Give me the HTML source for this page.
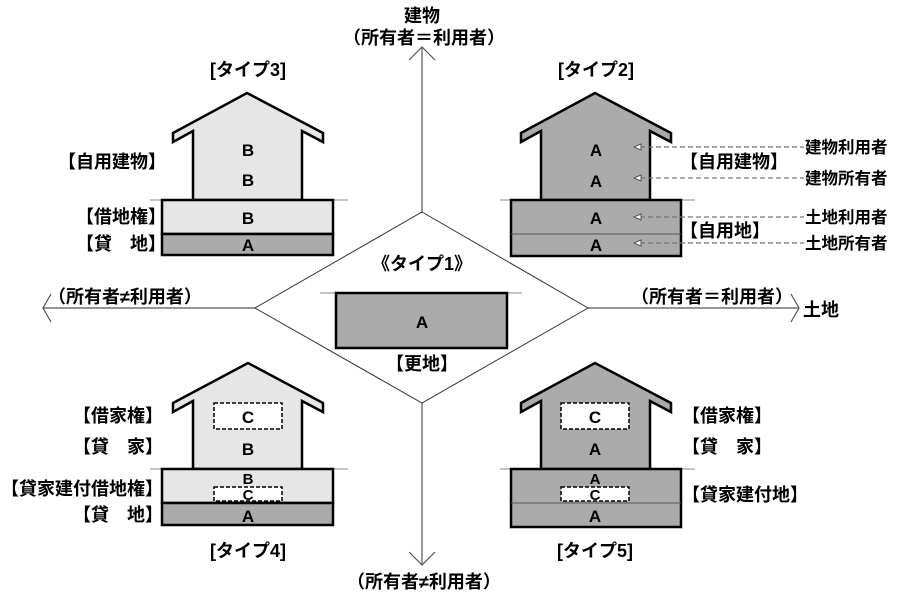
<!DOCTYPE html>
<html><head><meta charset="utf-8"><style>
html,body{margin:0;padding:0;background:#fff;}
svg{display:block;}
text{font-family:"Liberation Sans","Noto Sans CJK JP",sans-serif;font-weight:bold;fill:#000;}
</style></head><body>
<svg width="900" height="594" viewBox="0 0 900 594" xmlns="http://www.w3.org/2000/svg">
<!-- axes -->
<g stroke="#555" stroke-width="1.2" fill="none">
<line x1="422" y1="47" x2="422" y2="565"/>
<line x1="43" y1="308" x2="799" y2="308"/>
<polyline points="409,60 422,47 435,60"/>
<polyline points="409,552 422,565 435,552"/>
<polyline points="51,294 43,308 51,322"/>
<polyline points="791,294 799,308 791,322"/>
</g>
<!-- diamond -->
<polygon points="422,212 588,308 422,403 255,308" fill="#fff" stroke="#333" stroke-width="1"/>
<line x1="320" y1="293" x2="522" y2="293" stroke="#888" stroke-width="1"/>
<rect x="336" y="293" width="171" height="55" fill="#ababab" stroke="#000" stroke-width="2.5"/>
<text x="422" y="328" font-size="17" text-anchor="middle">A</text>
<text x="422" y="270" font-size="18" text-anchor="middle">《タイプ1》</text>
<text x="422" y="370" font-size="18" text-anchor="middle">【更地】</text>

<!-- axis labels -->
<text x="422" y="22" font-size="18" text-anchor="middle">建物</text>
<text x="424" y="44" font-size="18" text-anchor="middle">（所有者＝利用者）</text>
<text x="424" y="588" font-size="18" text-anchor="middle">（所有者≠利用者）</text>
<text x="125" y="303" font-size="18" text-anchor="middle">（所有者≠利用者）</text>
<text x="712" y="303" font-size="18" text-anchor="middle">（所有者＝利用者）</text>
<text x="803" y="316" font-size="18">土地</text>

<!-- Type3 -->
<line x1="150" y1="200" x2="348" y2="200" stroke="#888"/>
<polygon points="173,133 247,93 323,133 323,142 302,131 302,200 193,200 193,131 173,142" fill="#e6e6e6" stroke="#000" stroke-width="2.5"/>
<rect x="162" y="200" width="171" height="34" fill="#e6e6e6" stroke="#000" stroke-width="2.5"/>
<rect x="162" y="234" width="171" height="21" fill="#ababab" stroke="#000" stroke-width="2.5"/>
<text x="248" y="156" font-size="17" text-anchor="middle">B</text>
<text x="248" y="186" font-size="17" text-anchor="middle">B</text>
<text x="248" y="224" font-size="17" text-anchor="middle">B</text>
<text x="248" y="251" font-size="17" text-anchor="middle">A</text>
<text x="248" y="76" font-size="18" text-anchor="middle">[タイプ3]</text>
<text x="166" y="168" font-size="18" text-anchor="end">【自用建物】</text>
<text x="166" y="223" font-size="18" text-anchor="end">【借地権】</text>
<text x="166" y="250" font-size="18" text-anchor="end">【貸　地】</text>

<!-- Type2 -->
<line x1="500" y1="200" x2="695" y2="200" stroke="#888"/>
<polygon points="521,133 595,93 671,133 671,142 650,131 650,200 541,200 541,131 521,142" fill="#ababab" stroke="#000" stroke-width="2.5"/>
<rect x="511" y="200" width="170" height="56" fill="#ababab" stroke="#000" stroke-width="2.5"/>
<line x1="511" y1="234" x2="681" y2="234" stroke="#555" stroke-width="1"/>
<text x="596" y="156" font-size="17" text-anchor="middle">A</text>
<text x="596" y="187" font-size="17" text-anchor="middle">A</text>
<text x="596" y="224" font-size="17" text-anchor="middle">A</text>
<text x="596" y="251" font-size="17" text-anchor="middle">A</text>
<text x="596" y="76" font-size="18" text-anchor="middle">[タイプ2]</text>
<g stroke="#777" stroke-width="1.3" stroke-dasharray="5,3" fill="none">
<line x1="640" y1="147" x2="804" y2="147"/>
<line x1="640" y1="178" x2="804" y2="178"/>
<line x1="640" y1="217" x2="804" y2="217"/>
<line x1="640" y1="243" x2="804" y2="243"/>
</g>
<g fill="#fff" stroke="#555" stroke-width="1">
<polygon points="634,147 641,144 641,150"/>
<polygon points="634,178 641,175 641,181"/>
<polygon points="634,217 641,214 641,220"/>
<polygon points="634,243 641,240 641,246"/>
</g>
<text x="680" y="168" font-size="18">【自用建物】</text>
<text x="680" y="237" font-size="18">【自用地】</text>
<text x="805" y="153" font-size="16.5">建物利用者</text>
<text x="805" y="184" font-size="16.5">建物所有者</text>
<text x="805" y="223" font-size="16.5">土地利用者</text>
<text x="805" y="249" font-size="16.5">土地所有者</text>

<!-- Type4 -->
<line x1="150" y1="469" x2="348" y2="469" stroke="#888"/>
<polygon points="173,403 248,363 323,403 323,412 302,401 302,469 193,469 193,401 173,412" fill="#e6e6e6" stroke="#000" stroke-width="2.5"/>
<rect x="162" y="469" width="171" height="34" fill="#e6e6e6" stroke="#000" stroke-width="2.5"/>
<rect x="162" y="503" width="171" height="22" fill="#ababab" stroke="#000" stroke-width="2.5"/>
<rect x="214" y="403" width="68" height="26" fill="#fff" stroke="#000" stroke-width="1.5" stroke-dasharray="4,2"/>
<rect x="214" y="487" width="68" height="14" fill="#fff" stroke="#000" stroke-width="1.5" stroke-dasharray="4,2"/>
<text x="248" y="423" font-size="17" text-anchor="middle">C</text>
<text x="248" y="455" font-size="17" text-anchor="middle">B</text>
<text x="248" y="484" font-size="15" text-anchor="middle">B</text>
<text x="248" y="500" font-size="15" text-anchor="middle">C</text>
<text x="248" y="522" font-size="17" text-anchor="middle">A</text>
<text x="248" y="557" font-size="18" text-anchor="middle">[タイプ4]</text>
<text x="163" y="422" font-size="18" text-anchor="end">【借家権】</text>
<text x="163" y="453" font-size="18" text-anchor="end">【貸　家】</text>
<text x="163" y="495" font-size="18" text-anchor="end">【貸家建付借地権】</text>
<text x="163" y="521" font-size="18" text-anchor="end">【貸　地】</text>

<!-- Type5 -->
<line x1="500" y1="469" x2="695" y2="469" stroke="#888"/>
<polygon points="521,403 595,363 671,403 671,412 650,401 650,469 541,469 541,401 521,412" fill="#ababab" stroke="#000" stroke-width="2.5"/>
<rect x="511" y="469" width="170" height="58" fill="#ababab" stroke="#000" stroke-width="2.5"/>
<line x1="511" y1="503" x2="681" y2="503" stroke="#555" stroke-width="1"/>
<rect x="561" y="403" width="68" height="26" fill="#fff" stroke="#000" stroke-width="1.5" stroke-dasharray="4,2"/>
<rect x="561" y="487" width="68" height="14" fill="#fff" stroke="#000" stroke-width="1.5" stroke-dasharray="4,2"/>
<text x="595" y="423" font-size="17" text-anchor="middle">C</text>
<text x="595" y="455" font-size="17" text-anchor="middle">A</text>
<text x="595" y="484" font-size="15" text-anchor="middle">A</text>
<text x="595" y="500" font-size="15" text-anchor="middle">C</text>
<text x="595" y="522" font-size="17" text-anchor="middle">A</text>
<text x="595" y="557" font-size="18" text-anchor="middle">[タイプ5]</text>
<text x="682" y="422" font-size="18">【借家権】</text>
<text x="682" y="453" font-size="18">【貸　家】</text>
<text x="682" y="501" font-size="18">【貸家建付地】</text>
</svg>
</body></html>
